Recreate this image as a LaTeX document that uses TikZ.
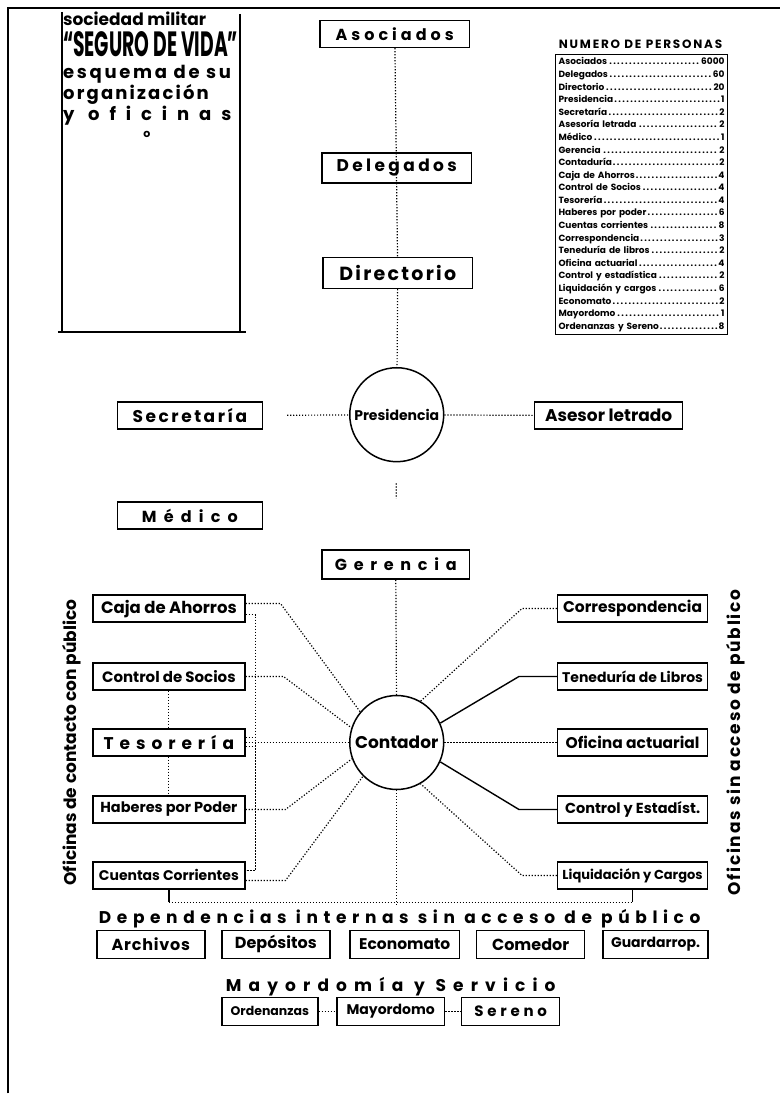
\documentclass[tikz,border=0pt]{standalone}
\usepackage{fontspec}
\usepackage{graphicx}
\setmainfont{Poppins}
\usetikzlibrary{positioning}

\newcommand{\spaced}[2]{{\addfontfeature{LetterSpace=#1}#2}}
\newcommand{\fsz}[1]{\bfseries\fontsize{#1}{#1}\selectfont}

\begin{document}
\begin{tikzpicture}[
    x=1pt, y=-1pt,
    box/.style={
        rectangle,
        draw,
        line width=1.5pt,
        minimum height=27pt,
        inner sep=2pt,
        align=center,
        font=\fsz{14}
    },
    disc/.style={
        circle,
        draw,
        line width=1.5pt,
        minimum size=94pt,
        inner sep=0pt,
        font=\fsz{14}
    },
    dotline/.style={
        line width=1.2pt,
        dash pattern=on 1.2pt off 1.8pt
    },
    link/.style={
        line width=1.4pt
    },
    heading/.style={
        font=\fsz{17}
    }
]

\path[fill=white] (0,0) rectangle (781,1094);

% frame and title block
\draw[line width=1.5pt] (8,1094) -- (8,8) -- (781,8);
\draw[line width=1.5pt] (62,12) -- (62,332);
\draw[line width=1.5pt] (240,14) -- (240,332);
\draw[line width=1.5pt] (58,332) -- (246,332);

\node[anchor=west,inner sep=0pt,font=\fsz{17}] (soc) at (63,19)
{sociedad militar};
\node[anchor=west,inner sep=0pt] (seguro) at (63,44)
{\resizebox{175pt}{25pt}{\bfseries “SEGURO DE VIDA”}};
\node[anchor=west,inner sep=0pt,font=\fsz{18}] (esquema) at (63,74)
{\spaced{15}{esquema de su}};
\node[anchor=west,inner sep=0pt,font=\fsz{18}] (organiz) at (63,95)
{\spaced{12}{organización}};
\node[anchor=west,inner sep=0pt,font=\fsz{18}] (oficinas) at (63,116)
{\spaced{55}{y oficinas}};
\node[inner sep=0pt,font=\fsz{11}] (grado) at (147,135) {o};

% upper column
\node[box,minimum width=150pt,font=\fsz{16}] (asociados) at (395,34)
{\spaced{25}{Asociados}};
\node[box,minimum width=150pt,minimum height=30pt,font=\fsz{17}] (delegados) at (397,168)
{\spaced{20}{Delegados}};
\node[box,minimum width=150pt,minimum height=31pt,font=\fsz{19}] (directorio) at (398,273)
{\spaced{12}{Directorio}};

\node[disc] (presidencia) at (397,415) {Presidencia};
\node[box,minimum width=145pt,font=\fsz{17}] (secretaria) at (190,416)
{\spaced{15}{Secretaría}};
\node[box,minimum width=148pt,font=\fsz{17}] (asesor) at (609,416)
{Asesor letrado};
\node[box,minimum width=145pt,font=\fsz{16}] (medico) at (190,516)
{\spaced{45}{Médico}};
\node[box,minimum width=148pt,minimum height=29pt,font=\fsz{16}] (gerencia) at (396,565)
{\spaced{42}{Gerencia}};

\draw[dotline] (asociados) -- (directorio);
\draw[dotline] (directorio) -- (presidencia);
\draw[dotline,shorten <=21pt,shorten >=51pt] (presidencia) -- (gerencia);
\draw[dotline,shorten <=24pt] (secretaria) -- (presidencia);
\draw[dotline] (presidencia) -- (asesor);

% contaduria
\node[disc,font=\fsz{17}] (contador) at (397,743) {Contador};
\draw[dotline] (gerencia) -- (contador);

\node[box,minimum width=152pt,font=\fsz{16.5}] (caja) at (169,609) {Caja de Ahorros};
\node[box,minimum width=152pt,font=\fsz{15}] (control) at (169,677) {Control de Socios};
\node[box,minimum width=152pt,font=\fsz{17}] (tesoreria) at (169,743)
{\spaced{35}{Tesorería}};
\node[box,minimum width=152pt,font=\fsz{14.5}] (haberes) at (169,810) {Haberes por Poder};
\node[box,minimum width=152pt,font=\fsz{14}] (cuentas) at (169,876) {Cuentas Corrientes};

\node[box,minimum width=150pt,font=\fsz{15.5}] (correspondencia) at (633,609) {Correspondencia};
\node[box,minimum width=150pt,font=\fsz{14}] (teneduria) at (633,677) {Teneduría de Libros};
\node[box,minimum width=150pt,font=\fsz{15.5}] (actuarial) at (633,743) {Oficina actuarial};
\node[box,minimum width=150pt,font=\fsz{14.5}] (estadistica) at (633,810) {Control y Estadíst.};
\node[box,minimum width=150pt,font=\fsz{13}] (liquidacion) at (633,876) {Liquidación y Cargos};

\node[rotate=90,font=\fsz{17}] (contacto) at (72,743)
{Oficinas de contacto con público};
\node[rotate=90,font=\fsz{17}] (sinacceso) at (736,743)
{\spaced{10}{Oficinas sin acceso de público}};

\draw[dotline] ([yshift=5pt]caja.east) -- ++(35,0) -- (contador.140);
\draw[dotline] (control.east) -- ++(38,0) -- (contador.162);
\draw[dotline] (tesoreria) -- (contador);
\draw[dotline] (haberes.east) -- ++(40,0) -- (contador.200);
\draw[dotline] ([yshift=-5pt]cuentas.east) -- ++(40,0) -- (contador.225);

\draw[dotline] ([yshift=-6pt]caja.east) -- ++(10,0) |- ([yshift=5pt]cuentas.east);
\draw[dotline] ([yshift=5pt]tesoreria.east) -- ++(10,0);
\draw[dotline] ([yshift=-4pt]tesoreria.east) -- ++(10,0);
\draw[dotline] (control) -- (tesoreria);
\draw[dotline] (tesoreria) -- (haberes);

\draw[dotline] (correspondencia.west) -- ++(-35,0) -- (contador.60);
\draw[link] (teneduria.west) -- ++(-38,0) -- (contador.24);
\draw[dotline] (contador) -- (actuarial);
\draw[link] (estadistica.west) -- ++(-38,0) -- (contador.-24);
\draw[dotline] (liquidacion.west) -- ++(-35,0) -- (contador.-60);

% dependencias internas
\coordinate (bus) at (0,903);
\node[heading] (dependencias) at (400,919)
{\spaced{33}{Dependencias internas sin acceso de público}};

\draw[link] (cuentas.south) -- (cuentas.south |- bus);
\draw[link] (liquidacion.south) -- (liquidacion.south |- bus);
\draw[dotline] (cuentas.south |- bus) -- (liquidacion.south |- bus);
\draw[dotline] (contador.south) -- (contador.south |- dependencias.north);

\node[box,minimum width=108pt,minimum height=28pt,font=\fsz{16}] (archivos) at (151,945) {\spaced{5}{Archivos}};
\node[box,minimum width=108pt,minimum height=28pt,font=\fsz{16}] (depositos) at (276,945) {Depósitos};
\node[box,minimum width=110pt,minimum height=28pt,font=\fsz{15.5}] (economato) at (405,945) {Economato};
\node[box,minimum width=108pt,minimum height=28pt,font=\fsz{16}] (comedor) at (531,945) {Comedor};
\node[box,minimum width=105pt,minimum height=28pt,font=\fsz{14}] (guardarropa) at (656,945) {Guardarrop.};

% mayordomia
\node[heading] (mayordomia) at (391,987)
{\spaced{42}{Mayordomía y Servicio}};
\node[box,minimum width=96pt,minimum height=28pt,font=\fsz{12.5}] (ordenanzas) at (270,1012) {Ordenanzas};
\node[box,minimum width=108pt,minimum height=28pt,font=\fsz{14}] (mayordomo) at (391,1012) {Mayordomo};
\node[box,minimum width=98pt,minimum height=28pt,font=\fsz{15}] (sereno) at (511,1012) {\spaced{25}{Sereno}};
\draw[dotline] (ordenanzas) -- (mayordomo);
\draw[dotline] (mayordomo) -- (sereno);

% numero de personas
\node[font=\fsz{12}] (numtitulo) at (641,44)
{\spaced{15}{NUMERO DE PERSONAS}};
\node[draw,line width=1.4pt,anchor=north,text width=166pt,inner sep=3pt,align=left,
      font=\bfseries\fontsize{9}{12.6}\selectfont] (tabla) at (642,54)
{Asociados\dotfill 6000\\
 Delegados\dotfill 60\\
 Directorio\dotfill 20\\
 Presidencia\dotfill 1\\
 Secretaría\dotfill 2\\
 Asesoría letrada\dotfill 2\\
 Médico\dotfill 1\\
 Gerencia\dotfill 2\\
 Contaduría\dotfill 2\\
 Caja de Ahorros\dotfill 4\\
 Control de Socios\dotfill 4\\
 Tesorería\dotfill 4\\
 Haberes por poder\dotfill 6\\
 Cuentas corrientes\dotfill 8\\
 Correspondencia\dotfill 3\\
 Teneduría de libros\dotfill 2\\
 Oficina actuarial\dotfill 4\\
 Control y estadística\dotfill 2\\
 Liquidación y cargos\dotfill 6\\
 Economato\dotfill 2\\
 Mayordomo\dotfill 1\\
 Ordenanzas y Sereno\dotfill 8};

\end{tikzpicture}
\end{document}
